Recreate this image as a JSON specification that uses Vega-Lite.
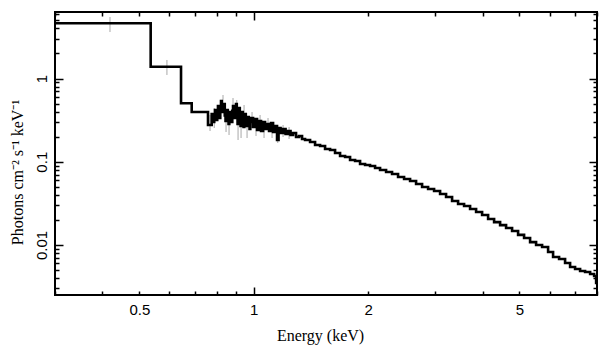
{
  "$schema": "https://vega.github.io/schema/vega-lite/v6.json",
  "autosize": "none",
  "padding": {"left": 55, "top": 12, "right": 12, "bottom": 62},
  "width": 542,
  "height": 283,
  "background": "white",
  "config": {
    "view": {"stroke": "black", "strokeWidth": 2},
    "axis": {
      "domain": false,
      "grid": false,
      "ticks": true,
      "zindex": 1,
      "tickOpacity": 1,
      "tickColor": "#000000",
      "tickWidth": 1.5,
      "labelFont": "Liberation Sans",
      "labelFontSize": 15,
      "labelColor": "black",
      "titleFont": "Liberation Serif",
      "titleFontSize": 16,
      "titleFontWeight": "normal",
      "titleColor": "black"
    }
  },
  "datasets": {
    "obs": [
      {"e": 0.4186, "lo": 3.62, "hi": 5.49},
      {"e": 0.591, "lo": 1.102, "hi": 1.669},
      {"e": 0.7674, "lo": 0.2339, "hi": 0.3641},
      {"e": 0.7872, "lo": 0.2541, "hi": 0.442},
      {"e": 0.8301, "lo": 0.442, "hi": 0.6334},
      {"e": 0.8455, "lo": 0.2275, "hi": 0.3958},
      {"e": 0.861, "lo": 0.2094, "hi": 0.3641},
      {"e": 0.882, "lo": 0.3958, "hi": 0.583},
      {"e": 0.9023, "lo": 0.3641, "hi": 0.5516},
      {"e": 0.9093, "lo": 0.1823, "hi": 0.3171},
      {"e": 0.926, "lo": 0.1927, "hi": 0.3352},
      {"e": 0.943, "lo": 0.3171, "hi": 0.4803},
      {"e": 0.9603, "lo": 0.1927, "hi": 0.3171},
      {"e": 0.9897, "lo": 0.2762, "hi": 0.3958},
      {"e": 1.0139, "lo": 0.2037, "hi": 0.3},
      {"e": 1.039, "lo": 0.2541, "hi": 0.3641},
      {"e": 1.0644, "lo": 0.1927, "hi": 0.2762},
      {"e": 1.0904, "lo": 0.2404, "hi": 0.3352},
      {"e": 1.1173, "lo": 0.1927, "hi": 0.2612},
      {"e": 1.1566, "lo": 0.1678, "hi": 0.2541},
      {"e": 1.1943, "lo": 0.1981, "hi": 0.2762},
      {"e": 1.2385, "lo": 0.1875, "hi": 0.2612}
    ],
    "model": [
      {"e": 0.3, "f": 4.61},
      {"e": 0.5356, "f": 1.386},
      {"e": 0.6437, "f": 0.5034},
      {"e": 0.6867, "f": 0.3958},
      {"e": 0.758, "f": 0.2762},
      {"e": 0.7751, "f": 0.3744},
      {"e": 0.7793, "f": 0.33},
      {"e": 0.7835, "f": 0.3},
      {"e": 0.7871, "f": 0.36},
      {"e": 0.7907, "f": 0.4182},
      {"e": 0.7943, "f": 0.34},
      {"e": 0.7979, "f": 0.3171},
      {"e": 0.8015, "f": 0.4},
      {"e": 0.8051, "f": 0.4672},
      {"e": 0.809, "f": 0.37},
      {"e": 0.8128, "f": 0.3352},
      {"e": 0.8165, "f": 0.45},
      {"e": 0.8201, "f": 0.5364},
      {"e": 0.8238, "f": 0.44},
      {"e": 0.8276, "f": 0.3958},
      {"e": 0.8314, "f": 0.47},
      {"e": 0.8352, "f": 0.4938},
      {"e": 0.839, "f": 0.36},
      {"e": 0.8429, "f": 0.3084},
      {"e": 0.8467, "f": 0.38},
      {"e": 0.8505, "f": 0.4182},
      {"e": 0.8544, "f": 0.33},
      {"e": 0.8584, "f": 0.2838},
      {"e": 0.8623, "f": 0.34},
      {"e": 0.8662, "f": 0.3958},
      {"e": 0.8702, "f": 0.35},
      {"e": 0.8742, "f": 0.3},
      {"e": 0.8781, "f": 0.41},
      {"e": 0.882, "f": 0.4672},
      {"e": 0.8861, "f": 0.39},
      {"e": 0.8902, "f": 0.3352},
      {"e": 0.8942, "f": 0.42},
      {"e": 0.8982, "f": 0.4938},
      {"e": 0.9024, "f": 0.36},
      {"e": 0.9066, "f": 0.2838},
      {"e": 0.9107, "f": 0.38},
      {"e": 0.9148, "f": 0.442},
      {"e": 0.919, "f": 0.33},
      {"e": 0.9232, "f": 0.2685},
      {"e": 0.9273, "f": 0.34},
      {"e": 0.9315, "f": 0.3958},
      {"e": 0.9358, "f": 0.31},
      {"e": 0.9402, "f": 0.2612},
      {"e": 0.9444, "f": 0.32},
      {"e": 0.9487, "f": 0.3744},
      {"e": 0.953, "f": 0.3},
      {"e": 0.9572, "f": 0.2685},
      {"e": 0.9616, "f": 0.31},
      {"e": 0.966, "f": 0.3446},
      {"e": 0.9704, "f": 0.29},
      {"e": 0.9748, "f": 0.2472},
      {"e": 0.9793, "f": 0.3},
      {"e": 0.9838, "f": 0.3352},
      {"e": 0.9959, "f": 0.2612},
      {"e": 1.0079, "f": 0.326},
      {"e": 1.0202, "f": 0.2404},
      {"e": 1.0325, "f": 0.3084},
      {"e": 1.0452, "f": 0.2339},
      {"e": 1.058, "f": 0.3},
      {"e": 1.0708, "f": 0.2472},
      {"e": 1.0839, "f": 0.2838},
      {"e": 1.0971, "f": 0.2339},
      {"e": 1.1105, "f": 0.2918},
      {"e": 1.1242, "f": 0.2275},
      {"e": 1.1376, "f": 0.2685},
      {"e": 1.1516, "f": 0.1823},
      {"e": 1.1622, "f": 0.2541},
      {"e": 1.1763, "f": 0.2213},
      {"e": 1.1943, "f": 0.2472},
      {"e": 1.2126, "f": 0.2153},
      {"e": 1.2311, "f": 0.2339},
      {"e": 1.2497, "f": 0.2094},
      {"e": 1.2688, "f": 0.2213},
      {"e": 1.2921, "f": 0.1981},
      {"e": 1.3158, "f": 0.2037},
      {"e": 1.34, "f": 0.1875},
      {"e": 1.3646, "f": 0.1823},
      {"e": 1.4067, "f": 0.1725},
      {"e": 1.4499, "f": 0.1587},
      {"e": 1.4946, "f": 0.1544},
      {"e": 1.5404, "f": 0.1421},
      {"e": 1.5879, "f": 0.1382},
      {"e": 1.6366, "f": 0.1272},
      {"e": 1.687, "f": 0.1171},
      {"e": 1.7391, "f": 0.1139},
      {"e": 1.7923, "f": 0.1048},
      {"e": 1.8476, "f": 0.1019},
      {"e": 1.9043, "f": 0.0938},
      {"e": 1.963, "f": 0.0913},
      {"e": 2.023, "f": 0.0888},
      {"e": 2.0854, "f": 0.084},
      {"e": 2.1496, "f": 0.0795},
      {"e": 2.2293, "f": 0.0752},
      {"e": 2.3115, "f": 0.0712},
      {"e": 2.3972, "f": 0.0655},
      {"e": 2.4861, "f": 0.062},
      {"e": 2.5781, "f": 0.0586},
      {"e": 2.6736, "f": 0.054},
      {"e": 2.7727, "f": 0.0497},
      {"e": 2.8754, "f": 0.047},
      {"e": 2.9818, "f": 0.0445},
      {"e": 3.0922, "f": 0.0409},
      {"e": 3.2063, "f": 0.0376},
      {"e": 3.3251, "f": 0.0337},
      {"e": 3.4483, "f": 0.031},
      {"e": 3.5759, "f": 0.0293},
      {"e": 3.7083, "f": 0.027},
      {"e": 3.8459, "f": 0.0249},
      {"e": 3.9883, "f": 0.0229},
      {"e": 4.1361, "f": 0.0205},
      {"e": 4.2891, "f": 0.0188},
      {"e": 4.448, "f": 0.0173},
      {"e": 4.6119, "f": 0.016},
      {"e": 4.7827, "f": 0.0147},
      {"e": 4.9599, "f": 0.0132},
      {"e": 5.1434, "f": 0.0121},
      {"e": 5.3339, "f": 0.0108},
      {"e": 5.5314, "f": 0.00997},
      {"e": 5.7363, "f": 0.00944},
      {"e": 5.9487, "f": 0.00822},
      {"e": 6.131, "f": 0.00715},
      {"e": 6.358, "f": 0.00677},
      {"e": 6.5936, "f": 0.00606},
      {"e": 6.7967, "f": 0.00543},
      {"e": 7.0048, "f": 0.00513},
      {"e": 7.2211, "f": 0.00486},
      {"e": 7.4427, "f": 0.00472},
      {"e": 7.6736, "f": 0.00447},
      {"e": 7.8613, "f": 0.00423},
      {"e": 7.9578, "f": 0.00348},
      {"e": 8.0, "f": 0.00348}
    ]
  },
  "layer": [
    {
      "data": {"name": "obs"},
      "mark": {"type": "rule", "color": "#a8a8a8", "strokeWidth": 1, "clip": true},
      "encoding": {
        "x": {
          "field": "e", "type": "quantitative",
          "scale": {"type": "log", "domain": [0.3, 8], "nice": false},
          "axis": {
            "orient": "bottom",
            "offset": -4,
            "ticks": true,
            "values": [0.3, 0.4, 0.5, 0.6, 0.7, 0.8, 0.9, 2, 3, 4, 5, 6, 7, 8],
            "labelExpr": "datum.value == 0.5 ? '0.5' : datum.value == 2 ? '2' : datum.value == 5 ? '5' : ''",
            "tickSize": 4,
            "labelPadding": 7,
            "title": "Energy (keV)",
            "titleX": 265,
            "titleY": 49,
            "titleBaseline": "alphabetic",
            "titleAlign": "center"
          }
        },
        "y": {
          "field": "lo", "type": "quantitative",
          "scale": {"type": "log", "domain": [0.0025, 6.3], "nice": false},
          "axis": {
            "orient": "left",
            "offset": -4,
            "ticks": true,
            "values": [0.003, 0.004, 0.005, 0.006, 0.007, 0.008, 0.009, 0.02, 0.03, 0.04, 0.05, 0.06, 0.07, 0.08, 0.09, 0.2, 0.3, 0.4, 0.5, 0.6, 0.7, 0.8, 0.9, 2, 3, 4, 5, 6],
            "labelExpr": "''",
            "tickSize": 4,
            "title": "Photons cm⁻² s⁻¹ keV⁻¹",
            "titleAngle": -90,
            "titleX": -42,
            "titleY": 160,
            "titleAlign": "center",
            "titleBaseline": "middle"
          }
        },
        "y2": {"field": "hi"}
      }
    },
    {
      "data": {"name": "obs"},
      "mark": {"type": "rule", "opacity": 0},
      "encoding": {
        "x": {
          "field": "e", "type": "quantitative",
          "axis": {
            "orient": "bottom",
            "offset": -8,
            "ticks": true,
            "values": [1],
            "labelExpr": "'1'",
            "tickSize": 8,
            "labelPadding": 7,
            "title": null
          }
        },
        "y": {
          "field": "lo", "type": "quantitative",
          "axis": {
            "orient": "left",
            "offset": -8,
            "ticks": true,
            "values": [0.01, 0.1, 1],
            "labelExpr": "datum.value == 0.01 ? '0.01' : datum.value == 0.1 ? '0.1' : '1'",
            "tickSize": 8,
            "labelAngle": -90,
            "labelAlign": "center",
            "labelBaseline": "bottom",
            "labelPadding": 6,
            "title": null
          }
        },
        "y2": {"field": "hi"}
      }
    },
    {
      "data": {"name": "model"},
      "mark": {"type": "line", "opacity": 0},
      "encoding": {
        "x": {
          "field": "e", "type": "quantitative",
          "axis": {"orient": "top", "offset": -8, "ticks": true, "values": [1], "labelExpr": "''", "title": null, "tickSize": 8}
        },
        "y": {
          "field": "f", "type": "quantitative",
          "axis": {"orient": "right", "offset": -8, "ticks": true, "values": [0.01, 0.1, 1], "labelExpr": "''", "title": null, "tickSize": 8}
        }
      }
    },
    {
      "data": {"name": "model"},
      "mark": {"type": "line", "interpolate": "step-after", "color": "black", "strokeWidth": 2.6, "clip": true},
      "encoding": {
        "x": {
          "field": "e", "type": "quantitative",
          "axis": {
            "orient": "top",
            "offset": -4,
            "ticks": true,
            "values": [0.3, 0.4, 0.5, 0.6, 0.7, 0.8, 0.9, 2, 3, 4, 5, 6, 7, 8],
            "labelExpr": "''",
            "title": null,
            "tickSize": 4
          }
        },
        "y": {
          "field": "f", "type": "quantitative",
          "axis": {
            "orient": "right",
            "offset": -4,
            "ticks": true,
            "values": [0.003, 0.004, 0.005, 0.006, 0.007, 0.008, 0.009, 0.02, 0.03, 0.04, 0.05, 0.06, 0.07, 0.08, 0.09, 0.2, 0.3, 0.4, 0.5, 0.6, 0.7, 0.8, 0.9, 2, 3, 4, 5, 6],
            "labelExpr": "''",
            "title": null,
            "tickSize": 4
          }
        }
      }
    }
  ],
  "resolve": {"axis": {"x": "independent", "y": "independent"}}
}
